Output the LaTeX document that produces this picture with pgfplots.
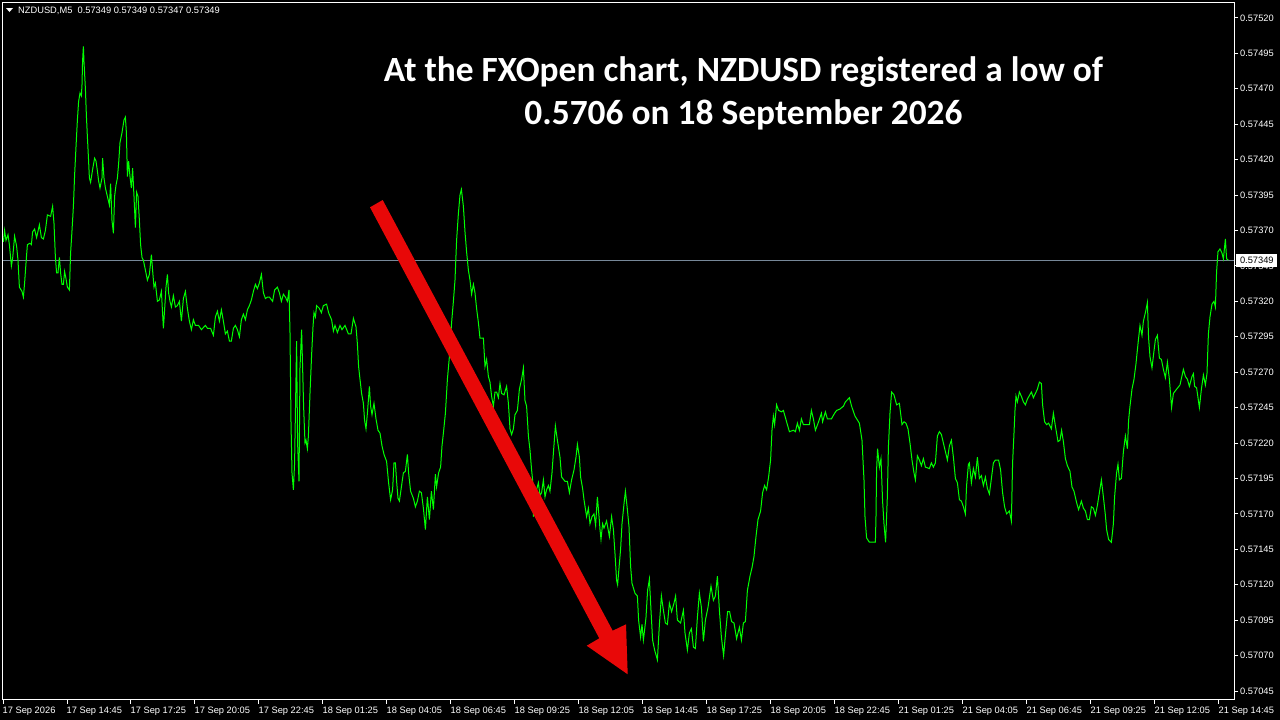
\documentclass[border=0pt]{standalone}
\usepackage{pgfplots}
\usepackage{fontspec}
\setmainfont{Liberation Sans}
\newfontfamily\carlito{Carlito}
\pgfplotsset{compat=1.18}
\definecolor{lime}{HTML}{00FF00}
\definecolor{pline}{HTML}{778899}
\definecolor{arrowred}{HTML}{E80808}
\begin{document}
\begin{tikzpicture}[x=1pt,y=-1pt]
\useasboundingbox (0,0) rectangle (1280,720);
\fill[black] (0,0) rectangle (1280,720);
\begin{axis}[
  at={(2.5pt,-699.5pt)}, anchor=south west,
  scale only axis, width=1232pt, height=697pt,
  xmin=-0.25, xmax=615.75, ymin=0.57039, ymax=0.575309,
  axis line style={white,line width=1pt},
  axis x line*=bottom, axis y line*=right,
  tick align=outside, major tick length=4pt,
  tick style={white,line width=1pt},
  xtick={0,32,64,96,128,160,192,224,256,288,320,352,384,416,448,480,512,544,576,608},
  xticklabels={17 Sep 2026,17 Sep 14:45,17 Sep 17:25,17 Sep 20:05,17 Sep 22:45,18 Sep 01:25,18 Sep 04:05,18 Sep 06:45,18 Sep 09:25,18 Sep 12:05,18 Sep 14:45,18 Sep 17:25,18 Sep 20:05,18 Sep 22:45,21 Sep 01:25,21 Sep 04:05,21 Sep 06:45,21 Sep 09:25,21 Sep 12:05,21 Sep 14:45},
  xticklabel style={font=\fontsize{9.3}{10}\selectfont,text=white,anchor=north west,inner sep=0pt,yshift=-3pt,xshift=-0.5pt},
  ytick={0.57045,0.5707,0.57095,0.5712,0.57145,0.5717,0.57195,0.5722,0.57245,0.5727,0.57295,0.5732,0.57345,0.5737,0.57395,0.5742,0.57445,0.5747,0.57495,0.5752},
  scaled y ticks=false,
  yticklabel style={font=\fontsize{9.3}{10}\selectfont,text=white,anchor=west,inner sep=0pt,xshift=1.5pt,
    /pgf/number format/fixed,/pgf/number format/fixed zerofill,/pgf/number format/precision=5,/pgf/number format/assume math mode=true},
  clip=false,
]
\addplot[pline,line width=1pt,forget plot] coordinates {(-0.25,0.57349) (615.75,0.57349)};
\addplot[lime,line width=1pt,sharp plot,line join=miter] coordinates {
(0.2,0.57362)(0.8,0.57370)(1.5,0.57363)(2.5,0.57367)(3.2,0.57360)(4.2,0.57345)(4.8,0.57350)(5.8,0.57366)(6.8,0.57359)(7.5,0.57349)(8.2,0.57330)(9.5,0.57327)(10.2,0.57323)(10.8,0.57333)(11.5,0.57347)(12.2,0.57360)(13.5,0.57361)(14.2,0.57360)(14.8,0.57369)(15.8,0.57371)(16.8,0.57365)(18.2,0.57374)(19.2,0.57365)(20.2,0.57364)(21.2,0.57370)(22.2,0.57381)(23.8,0.57380)(24.8,0.57387)(25.5,0.57375)(26.2,0.57351)(26.8,0.57340)(27.5,0.57340)(28.2,0.57351)(28.8,0.57340)(29.5,0.57332)(30.2,0.57332)(30.8,0.57341)(31.5,0.57336)(32.2,0.57330)(33.2,0.57328)(33.8,0.57354)(34.5,0.57370)(35.2,0.57387)(35.8,0.57409)(36.5,0.57429)(37.2,0.57448)(37.8,0.57461)(38.5,0.57467)(39.2,0.57465)(39.5,0.57473)(39.8,0.57490)(40.2,0.57500)(40.5,0.57489)(41.2,0.57470)(41.7,0.57451)(42.2,0.57436)(42.7,0.57422)(43.2,0.57407)(43.8,0.57404)(44.8,0.57413)(45.8,0.57421)(46.5,0.57419)(47.2,0.57412)(47.8,0.57405)(48.5,0.57400)(49.5,0.57407)(49.8,0.57421)(50.5,0.57407)(51.2,0.57400)(52.2,0.57394)(53.2,0.57388)(53.8,0.57403)(54.5,0.57377)(55.2,0.57368)(55.8,0.57394)(56.5,0.57402)(57.2,0.57407)(57.8,0.57417)(58.5,0.57432)(59.5,0.57439)(60.5,0.57448)(61.2,0.57450)(61.7,0.57439)(62.2,0.57408)(62.8,0.57419)(63.5,0.57408)(64.2,0.57400)(64.8,0.57414)(65.5,0.57394)(66.2,0.57372)(66.8,0.57397)(67.5,0.57394)(68.2,0.57377)(68.8,0.57360)(69.5,0.57351)(70.2,0.57349)(71.2,0.57342)(72.2,0.57335)(73.2,0.57339)(74.2,0.57353)(74.8,0.57342)(75.5,0.57330)(76.2,0.57333)(77.2,0.57320)(78.2,0.57321)(79.2,0.57327)(80.2,0.57301)(80.8,0.57314)(81.5,0.57330)(82.2,0.57339)(82.8,0.57326)(83.5,0.57320)(84.2,0.57316)(85.2,0.57324)(86.2,0.57316)(87.2,0.57317)(88.2,0.57320)(89.2,0.57306)(90.2,0.57322)(91.2,0.57327)(92.2,0.57315)(93.2,0.57306)(94.2,0.57300)(95.2,0.57307)(96.2,0.57303)(97.8,0.57303)(99.2,0.57300)(101.2,0.57303)(102.2,0.57301)(103.8,0.57301)(105.2,0.57296)(106.2,0.57309)(107.2,0.57313)(108.2,0.57306)(109.2,0.57314)(110.2,0.57306)(111.2,0.57297)(112.2,0.57299)(113.2,0.57292)(114.2,0.57292)(115.2,0.57301)(116.2,0.57303)(117.2,0.57300)(118.2,0.57295)(119.2,0.57307)(120.2,0.57311)(121.2,0.57307)(122.2,0.57314)(123.2,0.57317)(124.2,0.57321)(125.2,0.57327)(126.2,0.57332)(127.2,0.57329)(128.2,0.57333)(129.2,0.57339)(130.2,0.57326)(131.2,0.57322)(132.2,0.57323)(133.2,0.57323)(134.8,0.57320)(135.8,0.57328)(137.2,0.57330)(138.2,0.57326)(139.2,0.57320)(140.2,0.57325)(141.2,0.57323)(142.2,0.57320)(143,0.57328)
(143.5,0.57298)(144,0.57235)(144.5,0.57199)(145.2,0.57187)(145.8,0.57206)(146.8,0.57292)(147.3,0.57220)(148,0.57193)(148.5,0.57273)(149.3,0.57300)(149.8,0.57274)(150.3,0.57246)(151,0.57220)(151.5,0.57222)(152.2,0.57216)(152.7,0.57225)(153.5,0.57255)(154.3,0.57282)(155,0.57302)(155.5,0.57312)(156.2,0.57309)(156.8,0.57317)(158.2,0.57315)(159.2,0.57312)(160.2,0.57317)(161.8,0.57318)(162.8,0.57312)(164.3,0.57307)(165.2,0.57299)(166,0.57303)(167.2,0.57298)(168.5,0.57303)(169.5,0.57300)(171,0.57303)(172.7,0.57297)(174,0.57297)(175.2,0.57308)(176.5,0.57302)(177.2,0.57290)(177.8,0.57274)(178.5,0.57265)(179.3,0.57255)(180.2,0.57248)(180.8,0.57236)(181.5,0.57230)(182.2,0.57241)(183.2,0.57260)(183.8,0.57246)(184.5,0.57240)(185.5,0.57248)(186.5,0.57237)(187.5,0.57229)(188.5,0.57227)(189.5,0.57218)(190.5,0.57212)(191.8,0.57207)(192.8,0.57192)(193.8,0.57180)(194.8,0.57187)(195.5,0.57206)(196.2,0.57206)(196.8,0.57193)(197.5,0.57181)(198.2,0.57179)(199.2,0.57189)(200.2,0.57199)(201.2,0.57200)(202.2,0.57212)(202.8,0.57199)(203.8,0.57186)(205.2,0.57181)(206.2,0.57175)(207.2,0.57179)(208.2,0.57186)(209.2,0.57185)(210.2,0.57174)(211.2,0.57159)(212.2,0.57182)(213.2,0.57166)(214.2,0.57186)(215.2,0.57173)(216.2,0.57198)(216.8,0.57189)(217.8,0.57199)(218.8,0.57203)(219.5,0.57218)(220.2,0.57227)(221.2,0.57241)(222.2,0.57265)(223.2,0.57281)(224.3,0.57305)(225.2,0.57320)(226,0.57335)(226.8,0.57363)(227.7,0.57382)(228.5,0.57395)(229.2,0.57399)(230.2,0.57387)(231,0.57369)(231.8,0.57355)(232.7,0.57342)(233.5,0.57335)(234.3,0.57325)(235.2,0.57332)(236,0.57326)(236.8,0.57315)(237.7,0.57305)(238.5,0.57294)(240.2,0.57294)(241,0.57274)(241.8,0.57279)(242.7,0.57267)(243.5,0.57263)(244.3,0.57253)(245.2,0.57246)(246,0.57256)(246.8,0.57256)(247.7,0.57252)(248.5,0.57262)(249.3,0.57255)(250.5,0.57254)(251.8,0.57260)(252.7,0.57248)(253.5,0.57230)(254.3,0.57226)(255.2,0.57230)(256,0.57240)(257.2,0.57243)(258.2,0.57258)(259.3,0.57265)(260.2,0.57273)(261,0.57250)(261.8,0.57246)(262.7,0.57225)(263.5,0.57215)(264.3,0.57201)(264.8,0.57194)(265.2,0.57168)(266,0.57180)(266.8,0.57187)(267.7,0.57192)(268.5,0.57183)(269.3,0.57185)(270.2,0.57194)(271,0.57182)(271.8,0.57187)(272.7,0.57190)(273.5,0.57186)(274.5,0.57199)(275.2,0.57213)(276.2,0.57232)(277.2,0.57222)(278.5,0.57210)(279.3,0.57196)(281,0.57193)(282.2,0.57193)(283.2,0.57185)(284.3,0.57194)(285.5,0.57201)(286.5,0.57210)(287.2,0.57219)(288.2,0.57210)(288.8,0.57196)(289.8,0.57188)(290.5,0.57180)(291.8,0.57168)(292.7,0.57174)(293.5,0.57163)(294.5,0.57168)(295.5,0.57170)(296.3,0.57162)(297.2,0.57182)(298.2,0.57165)
(298.5,0.57159)(299,0.57152)(299.8,0.57163)(300.5,0.57160)(301.8,0.57165)(303.2,0.57154)(304.3,0.57168)(305.2,0.57159)(306,0.57142)(306.8,0.57123)(307.3,0.57120)(308.2,0.57135)(308.8,0.57145)(309.5,0.57163)(310.5,0.57177)(311.2,0.57186)(312.2,0.57173)(313,0.57161)(313.8,0.57133)(314.5,0.57121)(316,0.57114)(317.2,0.57112)(317.8,0.57095)(318.8,0.57083)(319.5,0.57092)(320.2,0.57081)(320.8,0.57088)(321.5,0.57097)(322.3,0.57116)(323.2,0.57124)(324,0.57102)(324.8,0.57081)(325.8,0.57074)(327.2,0.57067)(328.2,0.57092)(329.2,0.57112)(330.2,0.57102)(331.2,0.57093)(332.2,0.57092)(333.2,0.57107)(334.3,0.57101)(335.5,0.57107)(336.3,0.57112)(337.2,0.57095)(338.8,0.57093)(340.2,0.57102)(341,0.57086)(342.2,0.57074)(343.2,0.57086)(344.2,0.57089)(345.2,0.57076)(346.2,0.57075)(347.2,0.57097)(348.2,0.57114)(349.2,0.57104)(350.2,0.57080)(351.2,0.57095)(352.5,0.57104)(354,0.57119)(355.2,0.57109)(356.2,0.57112)(357.2,0.57126)(358.2,0.57102)(359.2,0.57083)(360.3,0.57070)(361.3,0.57086)(362.3,0.57101)(363.3,0.57101)(364.3,0.57094)(365.5,0.57093)(366.8,0.57082)(368.2,0.57090)(369.2,0.57081)(370.2,0.57093)(371.2,0.57094)(372.2,0.57116)(373.5,0.57126)(374.5,0.57132)(375.5,0.57140)(376.5,0.57154)(377.5,0.57166)(378.8,0.57172)(379.8,0.57185)(380.8,0.57190)(381.8,0.57187)(382.8,0.57196)(383.8,0.57208)(384.5,0.57229)(385.2,0.57239)(385.8,0.57233)(386.8,0.57247)(387.8,0.57243)(389.2,0.57242)(390.2,0.57243)(391.8,0.57235)(393.2,0.57228)(395.2,0.57229)(396.2,0.57228)(397.2,0.57234)(398.2,0.57229)(399.2,0.57237)(400.2,0.57233)(403.2,0.57233)(404.2,0.57243)(405.2,0.57237)(406.2,0.57229)(407.8,0.57235)(409.2,0.57241)(409.8,0.57235)(411.2,0.57242)(412.2,0.57237)(414.2,0.57237)(415.8,0.57241)(416.8,0.57243)(418.5,0.57244)(420.2,0.57246)(421.2,0.57249)(423.2,0.57252)(424.3,0.57246)(426,0.57239)(428.2,0.57234)(429.5,0.57222)(430.5,0.57194)(431,0.57168)(431.8,0.57153)(433.2,0.57150)(436.2,0.57150)(436.5,0.57168)(436.8,0.57201)(437.3,0.57216)(438.2,0.57203)(439,0.57209)(439.8,0.57179)(440.5,0.57163)(441.3,0.57150)(442.2,0.57183)(442.7,0.57217)(443.5,0.57241)(444.3,0.57256)(445.5,0.57254)(446.8,0.57247)(448.2,0.57248)
(449.5,0.57233)(450.5,0.57235)(451.5,0.57234)(452.5,0.57230)(453.5,0.57220)(454.5,0.57208)(455.5,0.57199)(456.2,0.57194)(457.2,0.57211)(458.2,0.57208)(459.2,0.57204)(460.2,0.57209)(461.2,0.57203)(463.2,0.57202)(464.2,0.57206)(465.2,0.57203)(466.2,0.57206)(467.2,0.57225)(468.2,0.57228)(469.2,0.57226)(470.2,0.57220)(471.2,0.57214)(472.2,0.57208)(473.2,0.57218)(474.2,0.57222)(475.2,0.57210)(476.2,0.57195)(477.2,0.57192)(478.2,0.57180)(479.2,0.57179)(480.2,0.57175)(481.2,0.57170)(481.8,0.57190)(482.7,0.57205)(483.2,0.57206)(484.2,0.57192)(485.2,0.57202)(486.2,0.57196)(487.2,0.57210)(488.2,0.57195)(489.2,0.57197)(490.2,0.57190)(491.2,0.57196)(492.2,0.57188)(493.2,0.57184)(494.2,0.57195)(495.2,0.57206)(496.2,0.57208)(497.8,0.57208)(498.8,0.57201)(499.8,0.57185)(500.8,0.57175)(501.8,0.57170)(503.2,0.57172)(504.2,0.57165)(504.8,0.57206)(505.5,0.57227)(506,0.57243)(506.5,0.57253)(507.2,0.57249)(508.2,0.57256)(509.2,0.57253)(510.2,0.57249)(511.2,0.57247)(512.2,0.57251)(514.2,0.57256)(515.2,0.57252)(517.2,0.57258)(518.2,0.57263)(519.2,0.57262)(519.8,0.57247)(520.8,0.57235)(521.8,0.57233)(522.8,0.57234)(524.2,0.57230)(525.2,0.57241)(526.2,0.57232)(527.5,0.57221)(528.5,0.57222)(529.3,0.57229)(530.2,0.57221)(531.2,0.57209)(532.2,0.57204)(533.5,0.57200)(534.5,0.57189)(535.5,0.57186)(536.8,0.57178)(537.8,0.57173)(539.2,0.57179)(540.2,0.57174)(541.2,0.57172)(542.2,0.57166)(543.2,0.57166)(544.2,0.57175)(545.2,0.57174)(546.2,0.57169)(547.2,0.57176)(548.2,0.57185)(549.2,0.57194)(550.2,0.57182)(551.2,0.57169)(551.8,0.57159)(552.8,0.57152)(554.2,0.57150)(555.2,0.57163)(555.8,0.57182)(556.8,0.57199)(557.5,0.57205)(558.2,0.57194)(559.2,0.57195)(560.2,0.57214)(561.2,0.57225)(562.2,0.57216)(562.8,0.57236)(563.5,0.57246)(564.5,0.57258)(565.5,0.57265)(566.5,0.57276)(567.5,0.57290)(568.5,0.57303)(569.5,0.57296)(570.2,0.57306)(571.2,0.57312)(572.2,0.57319)(572.8,0.57294)(573.5,0.57281)(574.5,0.57273)(575.5,0.57285)(576.2,0.57293)(577.2,0.57296)(578.2,0.57280)(579.2,0.57279)(580.2,0.57272)(581.2,0.57266)(582.2,0.57277)(583.2,0.57265)(584.3,0.57245)(585.2,0.57255)(586.8,0.57258)(588.5,0.57261)(590.2,0.57272)(591.2,0.57267)(592.2,0.57265)(593.2,0.57260)(594.5,0.57267)(595.2,0.57269)(595.8,0.57260)(596.8,0.57259)(598.2,0.57245)(599.2,0.57258)(600.2,0.57268)(601.2,0.57261)(602,0.57269)(602.7,0.57297)(603.5,0.57309)(604.5,0.57318)(605.5,0.57320)(606.2,0.57316)(606.8,0.57341)(607.5,0.57355)(608.5,0.57357)(609.5,0.57354)(610.2,0.57350)(611.2,0.57364)(611.8,0.57350)(612.7,0.57349)
};
\end{axis}
% chart frame left and top
\draw[white,line width=1pt] (2.5,699.5) -- (2.5,2.5) -- (1234.5,2.5);
% current price tag
\fill[white] (1236,254) rectangle (1277,267);
\node[anchor=west,inner sep=0pt,text=black,font=\fontsize{9.3}{10}\selectfont] at (1239.8,260.5) {0.57349};
% header
\fill[white] (6,8) -- (13,8) -- (9.5,12) -- cycle;
\node[anchor=west,inner sep=0pt,text=white,font=\fontsize{9.3}{10}\selectfont] at (18,10.5) {NZDUSD,M5\ \ 0.57349 0.57349 0.57347 0.57349};
% annotation
\fill[arrowred] (370,207.3) -- (382.7,200) -- (612.7,630.7) -- (626,624.3) -- (627.7,674.3) -- (586.7,645.7) -- (599.3,638.3) -- cycle;
\node[text=white,font=\carlito\bfseries\fontsize{35.4}{43}\selectfont,align=center,inner sep=0pt] at (743.5,93) {At the FXOpen chart, NZDUSD registered a low of\\0.5706 on 18 September 2026};
\end{tikzpicture}
\end{document}
